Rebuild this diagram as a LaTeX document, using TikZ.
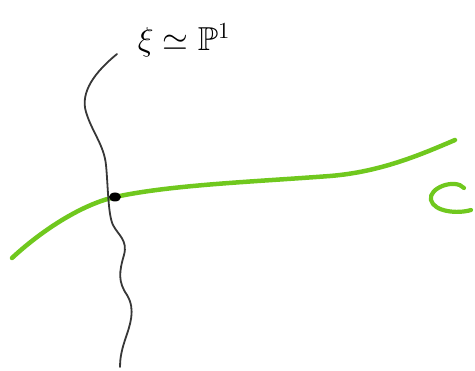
\documentclass[tikz,border=0pt]{standalone}
\usepackage{amssymb}
\definecolor{curvegreen}{RGB}{112,200,30}
\definecolor{pencil}{RGB}{55,55,55}
\begin{document}
\begin{tikzpicture}[x=1pt,y=-1pt,
  fiber/.style={draw=pencil,line width=1.8pt,line cap=round},
  curve/.style={draw=curvegreen,line width=4.5pt,line cap=round},
  lbl/.style={inner sep=0pt,font=\huge,scale=1.6,transform shape}]
\useasboundingbox (0,0) rectangle (475,371);
% green curve C
\draw[curve] (12,258) .. controls (40,232) and (80,205) .. (115,197)
  .. controls (170,185) and (250,182) .. (330,176)
  .. controls (380,172) and (420,155) .. (455,140);
% fiber
\draw[fiber] (117,54) .. controls (95,72) and (80,92) .. (86,112)
  .. controls (92,132) and (104,145) .. (106,165)
  .. controls (108,185) and (108,215) .. (113,225)
  .. controls (118,235) and (128,240) .. (124,255)
  .. controls (119,272) and (118,282) .. (127,295)
  .. controls (136,310) and (130,325) .. (125,340)
  .. controls (121,352) and (120,360) .. (120,367);
% intersection point
\fill[black] (115,197) ellipse (6 and 4.5);
% label C
\draw[curvegreen,line width=4.2pt,line cap=round] (464,188) .. controls (455,178) and (428,188) .. (431,200) .. controls (434,212) and (458,214) .. (471,210);
% label xi
\node[lbl,anchor=center] (xi) at (184,40) {$\xi\simeq\mathbb{P}^1$};
\end{tikzpicture}
\end{document}
